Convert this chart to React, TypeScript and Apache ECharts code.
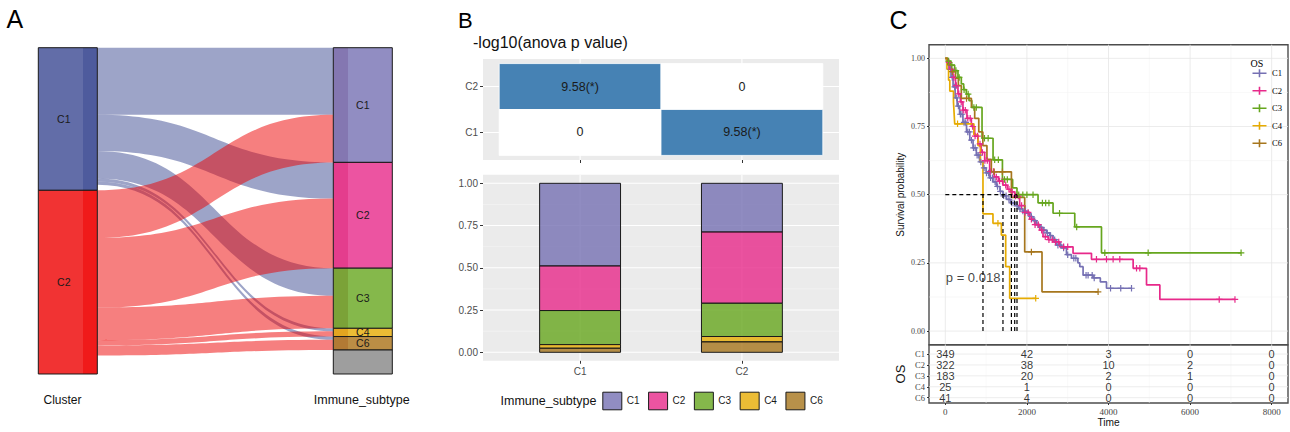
import React, { useEffect, useRef } from 'react';
import * as echarts from 'echarts';

// ---------------- Panel A / B data ----------------
const clusters = ['C1', 'C2'];
const subtypes = ['C1', 'C2', 'C3', 'C4', 'C6'];
const flowsFromC1 = [204, 110, 84, 9, 10];
const flowsFromC2 = [145, 212, 99, 16, 31];
const naCounts = [17, 56];

// heatmap: [column, row, value]
const anovaCells = [
  [1, 2, 9.58],
  [2, 2, 0],
  [1, 1, 0],
  [2, 1, 9.58],
];
const anovaLabels = ['9.58(*)', '0', '0', '9.58(*)'];
const barTicksY = [0, 0.25, 0.5, 0.75, 1];
const barMinorY = [0.125, 0.375, 0.625, 0.875];

// ---------------- Panel C data ----------------
// step points [time, survival after the event]; last point = end of follow-up
const km_C1 = [
  [0, 1], [40, 0.985], [90, 0.96], [140, 0.93], [190, 0.895], [240, 0.855], [290, 0.825], [350, 0.795],
  [432, 0.765], [520, 0.73], [600, 0.7], [680, 0.672], [760, 0.645], [840, 0.62], [923, 0.598], [1000, 0.58],
  [1080, 0.562], [1168, 0.547], [1250, 0.53], [1340, 0.512], [1413, 0.496], [1500, 0.483], [1600, 0.47],
  [1700, 0.46], [1800, 0.448], [1900, 0.44], [1988, 0.432], [2069, 0.42], [2150, 0.405], [2230, 0.39],
  [2314, 0.38], [2395, 0.37], [2478, 0.36], [2560, 0.35], [2640, 0.335], [2724, 0.315], [2847, 0.305],
  [2969, 0.28], [3092, 0.267], [3250, 0.25], [3296, 0.236], [3377, 0.205], [3622, 0.195], [3800, 0.18],
  [3951, 0.157], [4564, 0.157],
];
const km_C2 = [
  [0, 1], [40, 0.985], [100, 0.96], [187, 0.93], [250, 0.9], [310, 0.87], [370, 0.84], [432, 0.81],
  [530, 0.78], [638, 0.75], [720, 0.715], [800, 0.686], [880, 0.655], [965, 0.625], [1087, 0.585],
  [1200, 0.565], [1300, 0.55], [1413, 0.535], [1520, 0.52], [1600, 0.51], [1701, 0.495], [1823, 0.46],
  [1950, 0.435], [2069, 0.41], [2190, 0.39], [2314, 0.37], [2395, 0.346], [2520, 0.335], [2640, 0.327],
  [2805, 0.309], [3131, 0.285], [3583, 0.263], [4604, 0.23], [4932, 0.169], [5259, 0.116], [7100, 0.116],
];
const km_C3 = [
  [0, 1], [60, 0.99], [130, 0.975], [228, 0.955], [310, 0.93], [392, 0.906], [450, 0.885], [515, 0.869],
  [580, 0.845], [650, 0.82], [900, 0.707], [1170, 0.628], [1400, 0.556], [1650, 0.525], [1757, 0.5],
  [2273, 0.47], [2641, 0.432], [3173, 0.382], [3828, 0.287], [7250, 0.287],
];
const km_C4 = [
  [0, 1], [40, 0.96], [80, 0.92], [110, 0.88], [200, 0.84], [215, 0.8], [230, 0.76], [700, 0.72],
  [800, 0.68], [860, 0.62], [923, 0.43], [1168, 0.395], [1374, 0.352], [1480, 0.236], [1578, 0.12],
  [2216, 0.12],
];
const km_C6 = [
  [0, 1], [60, 0.976], [150, 0.951], [250, 0.927], [320, 0.9], [392, 0.853], [640, 0.82], [720, 0.78],
  [820, 0.73], [920, 0.68], [1020, 0.63], [1128, 0.584], [1620, 0.49], [1946, 0.29], [2370, 0.144],
  [3745, 0.144],
];
const censor_C1 = [130, 170, 230, 280, 320, 370, 410, 460, 500, 550, 590, 640, 690, 730, 780, 820, 870, 950, 1010,
  1060, 1110, 1160, 1220, 1280, 1350, 1430, 1490, 1560, 1630, 1690, 1760, 1830, 1900, 1960, 2030, 2110, 2190, 2270,
  2350, 2420, 2500, 2580, 2680, 2760, 2830, 2900, 3000, 3150, 3200, 3450, 3500, 3600, 3650, 4050, 4300, 4564];
const censor_C2 = [90, 150, 210, 270, 330, 390, 440, 490, 550, 610, 670, 730, 790, 850, 910, 970, 1030, 1100, 1180,
  1250, 1330, 1400, 1480, 1560, 1640, 1720, 1790, 1870, 1950, 2030, 2110, 2200, 2280, 2360, 2450, 2540, 2620, 2700,
  2780, 2900, 3000, 3705, 3951, 4113, 4277, 4687, 4768, 6714, 7100];
const censor_C3 = [80, 160, 260, 340, 460, 560, 700, 760, 960, 1050, 1210, 1300, 1450, 1520, 1800, 1900, 2000, 2150,
  2380, 2460, 2540, 2800, 3220, 3910, 4972, 7250];
const censor_C4 = [300, 1290, 2216];
const censor_C6 = [170, 520, 1200, 1400, 2110, 3745];

const riskTimes = [0, 2000, 4000, 6000, 8000];
const risk_C1 = [349, 42, 3, 0, 0];
const risk_C2 = [322, 38, 10, 2, 0];
const risk_C3 = [183, 20, 2, 1, 0];
const risk_C4 = [25, 1, 0, 0, 0];
const risk_C6 = [41, 4, 0, 0, 0];
const kmTicksY = [0, 0.25, 0.5, 0.75, 1];
const kmMinorY = [0.125, 0.375, 0.625, 0.875];
const kmMinorX = [1000, 3000, 5000, 7000];
const pValueText = 'p = 0.018';

// ---------------- colours ----------------
const DARK2 = ['#7570B3', '#E7298A', '#66A61E', '#E6AB02', '#A6761D'];
const flowColors = ['#3B4992', '#EE0000'];
const leftNodeColors = ['#626da8', '#f13333'];
const leftStripColors = ['#4e5b9d', '#f01a1a'];
const rightNodeColors = ['#918dc2', '#ec54a1', '#85b84b', '#ebbc35', '#bb8e45'];
const rightStripColors = ['#8477b1', '#e43d8d', '#7ba238', '#e3a520', '#b27a34'];

const rgba = (hex: string, a: number) => {
  const n = parseInt(hex.slice(1), 16);
  return `rgba(${(n >> 16) & 255},${(n >> 8) & 255},${n & 255},${a})`;
};
const sum = (a: number[]) => a.reduce((s, v) => s + v, 0);
const survAt = (curve: number[][], t: number) => {
  let s = 1;
  for (const [tt, ss] of curve) {
    if (tt <= t) s = ss;
    else break;
  }
  return s;
};
const medianOf = (curve: number[][]) => {
  for (const [t, s] of curve) if (s <= 0.5) return t;
  return null;
};

const SANS = 'Liberation Sans';
const SERIF = 'Liberation Serif';

function gridLineSeries(gi: number, lines: number[][], major: any, minor: any, z = 1) {
  return {
    type: 'custom',
    xAxisIndex: gi,
    yAxisIndex: gi,
    silent: true,
    z,
    data: lines,
    renderItem: (params: any, api: any) => {
      const cs = params.coordSys;
      const o = api.value(0);
      const v = api.value(1);
      const st = api.value(2) ? major : minor;
      if (o === 0) {
        const px = api.coord([v, 0])[0];
        return { type: 'line', shape: { x1: px, y1: cs.y, x2: px, y2: cs.y + cs.height }, style: { stroke: st.color, lineWidth: st.width } };
      }
      const py = api.coord([0, v])[1];
      return { type: 'line', shape: { x1: cs.x, y1: py, x2: cs.x + cs.width, y2: py }, style: { stroke: st.color, lineWidth: st.width } };
    },
  };
}

function axis(gi: number, min: number, max: number, values: number[] | null, fmt: any, label: any, tick: number, margin: number, extra: any = {}) {
  return {
    gridIndex: gi,
    type: 'value',
    min,
    max,
    axisLine: { show: false, onZero: false },
    axisTick: values ? { show: tick > 0, customValues: values, length: tick, lineStyle: { color: '#333', width: 1 } } : { show: false },
    axisLabel: values && fmt ? { show: true, customValues: values, formatter: fmt, margin, ...label } : { show: false },
    splitLine: { show: false },
    ...extra,
  };
}

function buildOption() {
  const flowMatrix = [flowsFromC1, flowsFromC2];
  const clusterTotals = flowMatrix.map(sum);

  // ---- Sankey ----
  const hGrad = (stops: [number, string][]) => ({
    type: 'linear', x: 0, y: 0, x2: 1, y2: 0,
    colorStops: stops.map(([offset, color]) => ({ offset, color })),
  });
  const nodes: any[] = [];
  clusters.forEach((c, i) => {
    nodes.push({
      name: 'L_' + c,
      itemStyle: { color: hGrad([[0, leftNodeColors[i]], [0.758, leftNodeColors[i]], [0.758, leftStripColors[i]], [1, leftStripColors[i]]]) },
      label: { offset: [-4, 0] },
    });
  });
  subtypes.forEach((s, i) => {
    nodes.push({
      name: 'R_' + s,
      itemStyle: { color: hGrad([[0, rightStripColors[i]], [0.25, rightStripColors[i]], [0.25, rightNodeColors[i]], [1, rightNodeColors[i]]]) },
    });
  });
  nodes.push({ name: 'R_NA', itemStyle: { color: '#9e9e9e' }, label: { show: false } });
  const links: any[] = [];
  clusters.forEach((c, ci) => {
    subtypes.forEach((s, si) => {
      links.push({ source: 'L_' + c, target: 'R_' + s, value: flowMatrix[ci][si], lineStyle: { color: flowColors[ci], opacity: 0.5 } });
    });
    links.push({ source: 'L_' + c, target: 'R_NA', value: naCounts[ci], lineStyle: { color: flowColors[ci], opacity: 0 } });
  });

  // ---- stacked proportion bars ----
  const barSeries = subtypes.map((s, k) => {
    const data = clusters.map((c, ci) => {
      let lo = 0;
      for (let j = subtypes.length - 1; j > k; j--) lo += flowMatrix[ci][j];
      const hi = lo + flowMatrix[ci][k];
      return [ci + 1, lo / clusterTotals[ci], hi / clusterTotals[ci]];
    });
    const fill = rgba(DARK2[k], 0.8);
    return {
      type: 'custom',
      name: s,
      xAxisIndex: 1,
      yAxisIndex: 1,
      z: 3,
      silent: true,
      itemStyle: { color: fill, borderColor: '#1a1a1a', borderWidth: 1 },
      data,
      renderItem: (params: any, api: any) => {
        const x = api.value(0);
        const p0 = api.coord([x - 0.25, api.value(2)]);
        const p1 = api.coord([x + 0.25, api.value(1)]);
        return {
          type: 'rect',
          shape: { x: p0[0], y: p0[1], width: p1[0] - p0[0], height: p1[1] - p0[1] },
          style: { fill, stroke: '#1a1a1a', lineWidth: 1 },
        };
      },
    };
  });

  // ---- KM ----
  const curves = [km_C1, km_C2, km_C3, km_C4, km_C6];
  const censors = [censor_C1, censor_C2, censor_C3, censor_C4, censor_C6];
  const risks = [risk_C1, risk_C2, risk_C3, risk_C4, risk_C6];
  const medians = curves.map(medianOf).filter((m) => m != null) as number[];
  const maxMedian = Math.max(...medians);

  const kmLines = curves.map((c, i) => ({
    type: 'line',
    name: 'OS_' + subtypes[i],
    xAxisIndex: 2,
    yAxisIndex: 2,
    data: c,
    step: 'end',
    showSymbol: false,
    symbol: 'none',
    silent: true,
    z: 3,
    lineStyle: { color: DARK2[i], width: 1.7 },
    itemStyle: { color: DARK2[i] },
  }));
  const kmCensors = censors.map((cs, i) => ({
    type: 'scatter',
    name: 'cens_' + subtypes[i],
    xAxisIndex: 2,
    yAxisIndex: 2,
    silent: true,
    z: 4,
    symbol: 'path://M0,5L10,5M5,0L5,10',
    symbolSize: 6.5,
    itemStyle: { color: 'rgba(0,0,0,0)', borderColor: DARK2[i], borderWidth: 1.2, opacity: 1 },
    data: cs.map((t) => [t, survAt(curves[i], t)]),
  }));
  const dash = { stroke: '#000', lineWidth: 1.2, lineDash: [4, 3] };
  const medianV = {
    type: 'custom', xAxisIndex: 2, yAxisIndex: 2, silent: true, z: 5,
    data: medians.map((m) => [m, 0.5]),
    renderItem: (params: any, api: any) => {
      const a = api.coord([api.value(0), 0]);
      const b = api.coord([api.value(0), api.value(1)]);
      return { type: 'line', shape: { x1: a[0], y1: a[1], x2: b[0], y2: b[1] }, style: dash };
    },
  };
  const medianH = {
    type: 'custom', xAxisIndex: 2, yAxisIndex: 2, silent: true, z: 5,
    data: [[0, 0.5, maxMedian]],
    renderItem: (params: any, api: any) => {
      const a = api.coord([api.value(0), api.value(1)]);
      const b = api.coord([api.value(2), api.value(1)]);
      return { type: 'line', shape: { x1: a[0], y1: a[1], x2: b[0], y2: b[1] }, style: dash };
    },
  };
  const pLabel = {
    type: 'scatter', xAxisIndex: 2, yAxisIndex: 2, silent: true, z: 6,
    symbolSize: 1, itemStyle: { color: 'rgba(0,0,0,0)' },
    data: [[0, 0.197]],
    label: { show: true, position: 'right', distance: 0, formatter: pValueText, fontSize: 13, fontFamily: SANS, color: '#111' },
  };

  const riskData: number[][] = [];
  risks.forEach((r, ri) => r.forEach((n, ti) => riskData.push([riskTimes[ti], 5 - ri, n])));
  const riskSeries = {
    type: 'scatter', xAxisIndex: 3, yAxisIndex: 3, silent: true, z: 4,
    symbolSize: 1, itemStyle: { color: 'rgba(0,0,0,0)' },
    data: riskData,
    label: {
      show: true, position: 'inside', formatter: (p: any) => String(p.value[2]),
      fontSize: 11, lineHeight: 10.5, fontFamily: SANS, color: '#000',
    },
  };

  // gridline definitions [orientation 0=x/1=y, value, major]
  const hmLines = [[0, 1, 1], [0, 2, 1], [1, 1, 1], [1, 2, 1]];
  const barLines = [[0, 1, 1], [0, 2, 1], ...barTicksY.map((v) => [1, v, 1]), ...barMinorY.map((v) => [1, v, 0])];
  const kmLinesGrid = [
    ...riskTimes.map((v) => [0, v, 1]), ...kmMinorX.map((v) => [0, v, 0]),
    ...kmTicksY.map((v) => [1, v, 1]), ...kmMinorY.map((v) => [1, v, 0]),
  ];
  const riskLinesGrid = [...riskTimes.map((v) => [0, v, 1]), ...kmMinorX.map((v) => [0, v, 0]), ...[1, 2, 3, 4, 5].map((v) => [1, v, 1])];

  const grayLbl = { fontSize: 10, color: '#4d4d4d', fontFamily: SANS };
  const serifLbl = { fontSize: 8, color: '#444444', fontFamily: SERIF };

  return {
    animation: false,
    textStyle: { fontFamily: SANS },
    grid: [
      { left: 483, top: 59, width: 356, height: 101, show: true, backgroundColor: '#ebebeb', borderWidth: 0, borderColor: 'transparent', containLabel: false, outerBoundsMode: 'none' },
      { left: 483, top: 174.85, width: 356, height: 185.9, show: true, backgroundColor: '#ebebeb', borderWidth: 0, borderColor: 'transparent', containLabel: false, outerBoundsMode: 'none' },
      { left: 929, top: 44.7, width: 359, height: 300, show: true, backgroundColor: '#ffffff', borderWidth: 1.4, borderColor: '#4d4d4d', containLabel: false, outerBoundsMode: 'none' },
      { left: 929, top: 345, width: 359, height: 58, show: true, backgroundColor: '#ffffff', borderWidth: 1.4, borderColor: '#4d4d4d', containLabel: false, outerBoundsMode: 'none' },
    ],
    xAxis: [
      axis(0, 0.4, 2.6, [1, 2], null, {}, 3, 0),
      axis(1, 0.4, 2.6, [1, 2], (v: number) => clusters[v - 1], grayLbl, 3, 6),
      axis(2, -400, 8400, null, null, {}, 0, 0),
      axis(3, -400, 8400, riskTimes, (v: number) => String(v), { fontSize: 9, color: '#444444', fontFamily: SERIF }, 2, 4, {
        name: 'Time', nameLocation: 'middle', nameGap: 14.5, nameTextStyle: { fontSize: 10.2, color: '#111', fontFamily: SANS },
      }),
    ],
    yAxis: [
      axis(0, 0.4, 2.6, [1, 2], (v: number) => clusters[v - 1], grayLbl, 3, 5),
      axis(1, -0.05, 1.05, barTicksY, (v: number) => v.toFixed(2), grayLbl, 3, 5),
      axis(2, -0.05, 1.05, kmTicksY, (v: number) => v.toFixed(2), serifLbl, 2, 4, {
        name: 'Survival probability', nameLocation: 'middle', nameGap: 24, nameTextStyle: { fontSize: 10, color: '#111', fontFamily: SANS },
      }),
      axis(3, 0.51, 5.83, [1, 2, 3, 4, 5], (v: number) => subtypes[5 - v], { fontSize: 8.5, color: '#444444', fontFamily: SERIF }, 2, 4, {
        name: 'OS', nameLocation: 'middle', nameGap: 22.5, nameTextStyle: { fontSize: 13, color: '#111', fontFamily: SANS },
      }),
    ],
    legend: [
      {
        orient: 'horizontal', left: 602.3, top: 391.7, padding: 0, itemWidth: 19, itemHeight: 17.6, itemGap: 8.5,
        icon: 'rect', selectedMode: false,
        textStyle: { fontSize: 10, color: '#1a1a1a', fontFamily: SANS },
        data: subtypes.map((s, i) => ({ name: s, itemStyle: { color: rgba(DARK2[i], 0.8), borderColor: '#1a1a1a', borderWidth: 1 } })),
      },
      {
        orient: 'vertical', left: 1251.7, top: 68.4, padding: 0, itemWidth: 15, itemHeight: 8, itemGap: 7.9,
        icon: 'path://M0,4L14,4M7,0L7,8', selectedMode: false,
        formatter: (n: string) => n.replace('OS_', ''),
        textStyle: { fontSize: 8.6, color: '#000', fontFamily: SERIF },
        data: subtypes.map((s, i) => ({ name: 'OS_' + s, itemStyle: { color: 'rgba(0,0,0,0)', borderColor: DARK2[i], borderWidth: 1.6 } })),
      },
    ],
    graphic: [
      { type: 'text', x: 6.5, y: 19.2, style: { text: 'A', fontSize: 25, fontFamily: SANS, fill: '#000', align: 'left', verticalAlign: 'middle' } },
      { type: 'text', x: 458, y: 20.5, style: { text: 'B', fontSize: 22, fontFamily: SANS, fill: '#000', align: 'left', verticalAlign: 'middle' } },
      { type: 'text', x: 889.5, y: 19.5, style: { text: 'C', fontSize: 25, fontFamily: SANS, fill: '#000', align: 'left', verticalAlign: 'middle' } },
      { type: 'text', x: 62.5, y: 400, style: { text: 'Cluster', fontSize: 12, fontFamily: SANS, fill: '#111', align: 'center', verticalAlign: 'middle' } },
      { type: 'text', x: 361.7, y: 400, style: { text: 'Immune_subtype', fontSize: 12.5, fontFamily: SANS, fill: '#111', align: 'center', verticalAlign: 'middle' } },
      { type: 'text', x: 473, y: 42, style: { text: '-log10(anova p value)', fontSize: 16, fontFamily: SANS, fill: '#111', align: 'left', verticalAlign: 'middle' } },
      { type: 'text', x: 548.5, y: 400.5, style: { text: 'Immune_subtype', fontSize: 12.5, fontFamily: SANS, fill: '#111', align: 'center', verticalAlign: 'middle' } },
      { type: 'text', x: 1257, y: 63.5, style: { text: 'OS', fontSize: 10, fontFamily: SERIF, fill: '#000', align: 'center', verticalAlign: 'middle' } },
    ],
    series: [
      {
        type: 'sankey',
        left: 38.3,
        top: 47.7,
        width: 354,
        height: 326.3,
        nodeWidth: 59,
        nodeGap: 0,
        layoutIterations: 0,
        draggable: false,
        silent: true,
        emphasis: { disabled: true },
        itemStyle: { borderColor: '#1a1a1a', borderWidth: 1 },
        lineStyle: { curveness: 0.5 },
        label: {
          show: true, position: 'inside', fontSize: 10.5, color: '#1a1a1a', fontFamily: SANS,
          formatter: (p: any) => String(p.name).slice(2),
        },
        data: nodes,
        links,
      },
      gridLineSeries(0, hmLines, { color: '#ffffff', width: 1.1 }, { color: '#ffffff', width: 0.5 }),
      {
        type: 'custom', xAxisIndex: 0, yAxisIndex: 0, silent: true, z: 3,
        data: anovaCells,
        renderItem: (params: any, api: any) => {
          const c = api.value(0);
          const r = api.value(1);
          const v = api.value(2);
          const p0 = api.coord([c - 0.5, r + 0.5]);
          const p1 = api.coord([c + 0.5, r - 0.5]);
          return {
            type: 'group',
            children: [
              { type: 'rect', shape: { x: p0[0], y: p0[1], width: p1[0] - p0[0], height: p1[1] - p0[1] }, style: { fill: v > 0 ? '#4682B4' : '#ffffff', stroke: '#ffffff', lineWidth: 0.8 } },
              { type: 'text', style: { text: anovaLabels[params.dataIndex], x: (p0[0] + p1[0]) / 2, y: (p0[1] + p1[1]) / 2, align: 'center', verticalAlign: 'middle', fontSize: 12.5, fontFamily: SANS, fill: '#1a1a1a' } },
            ],
          };
        },
      },
      gridLineSeries(1, barLines, { color: '#ffffff', width: 1.1 }, { color: '#f7f7f7', width: 0.55 }),
      ...barSeries,
      gridLineSeries(2, kmLinesGrid, { color: '#e6e6e6', width: 0.8 }, { color: '#f0f0f0', width: 0.5 }),
      ...kmLines,
      ...kmCensors,
      medianV,
      medianH,
      pLabel,
      gridLineSeries(3, riskLinesGrid, { color: '#e8e8e8', width: 0.8 }, { color: '#f2f2f2', width: 0.5 }),
      riskSeries,
    ],
  };
}

export default function App() {
  const ref = useRef<HTMLDivElement>(null);
  useEffect(() => {
    document.body.style.margin = '0';
    const chart = echarts.init(ref.current as HTMLDivElement, undefined, { renderer: 'svg' });
    chart.setOption(buildOption() as any);
    return () => chart.dispose();
  }, []);
  return <div ref={ref} style={{ width: 1290, height: 432 }} />;
}
